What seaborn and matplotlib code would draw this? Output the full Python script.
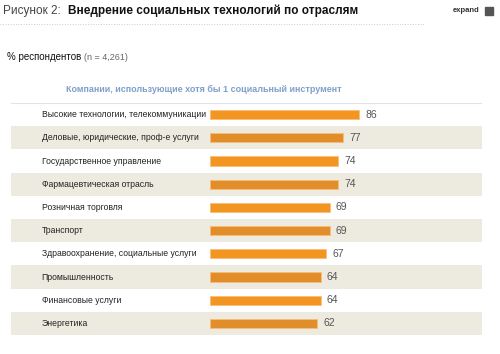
import matplotlib
matplotlib.use('Agg')
import matplotlib.pyplot as plt
import matplotlib.patches as mpatches
from matplotlib.lines import Line2D
import pandas as pd
import seaborn as sns

# данные
categories = ['Высокие технологии, телекоммуникации',
              'Деловые, юридические, проф-е услуги',
              'Государственное управление',
              'Фармацевтическая отрасль',
              'Розничная торговля',
              'Транспорт',
              'Здравоохранение, социальные услуги',
              'Промышленность',
              'Финансовые услуги',
              'Энергетика']
values = [86, 77, 74, 74, 69, 69, 67, 64, 64, 62]

sns.set_style('white')
plt.rcParams['font.family'] = ['Liberation Sans', 'DejaVu Sans']

W, H = 500, 354
fig = plt.figure(figsize=(W / 100, H / 100), dpi=100)


def px(x, y):
    return x / W, 1 - y / H


# область графика (в пикселях: x 11..482, y 103..335)
left, right, top, bottom = 11, 482, 103, 335
ax = fig.add_axes([left / W, 1 - bottom / H, (right - left) / W, (bottom - top) / H])

df = pd.DataFrame({'cat': categories, 'val': values})
bar_light = '#F39521'
bar_dark = '#E08D2A'
band = '#EDEAE0'
pal = [bar_light if i % 2 == 0 else bar_dark for i in range(len(categories))]

n = len(categories)
for i in range(n):
    if i % 2 == 1:
        ax.axhspan(i - 0.5, i + 0.5, color=band, lw=0, zorder=0)

sns.barplot(data=df, x='val', y='cat', hue='cat', palette=pal, legend=False,
            width=0.4, orient='h', ax=ax, zorder=2, saturation=1,
            edgecolor='#F8BE7A', linewidth=0.6)

# шкала: x=0 на 210 px, 1.733 px на единицу
ppu = 1.733
x0 = -(210 - left) / ppu
x1 = (right - 210) / ppu
ax.set_xlim(x0, x1)
ax.set_ylim(n - 0.5, -0.5)
ax.axis('off')

for i, (c, v) in enumerate(zip(categories, values)):
    ax.text(0.065, i, c, transform=ax.get_yaxis_transform(), ha='left',
            va='center', fontsize=6.2, color='#222222')
    ax.text(v + 3.5, i, str(v), ha='left', va='center', fontsize=7.5,
            color='#555555')

# верхняя линия таблицы
ax.axhline(-0.5, color='#E2E2E2', lw=0.8, zorder=3)

# заголовок
fig.text(*px(3, 11), 'Рисунок 2:', fontsize=8.5, color='#444444', va='center')
fig.text(*px(68, 11), 'Внедрение социальных технологий по отраслям',
         fontsize=8.5, fontweight='bold', color='#111111', va='center')
fig.text(*px(453, 11), 'expand', fontsize=5.5, fontweight='bold',
         color='#333333', va='center')
fig.patches.append(mpatches.Rectangle(px(485, 15), 8 / W, 8 / H,
                                      transform=fig.transFigure,
                                      color='#555555', zorder=3))
fig.lines.append(Line2D([0, 425 / W], [1 - 24 / H] * 2, transform=fig.transFigure,
                        color='#CCCCCC', lw=0.7, linestyle=':'))

fig.text(*px(7, 57), '% респондентов', fontsize=7, color='#111111', va='center')
fig.text(*px(84, 57), '(n = 4,261)', fontsize=6.5, color='#666666', va='center')

fig.text(*px(204, 89), 'Компании, использующие хотя бы 1 социальный инструмент',
         fontsize=6.5, fontweight='bold', color='#7F9FCB', ha='center', va='center')

fig.savefig('out.png', dpi=100)
